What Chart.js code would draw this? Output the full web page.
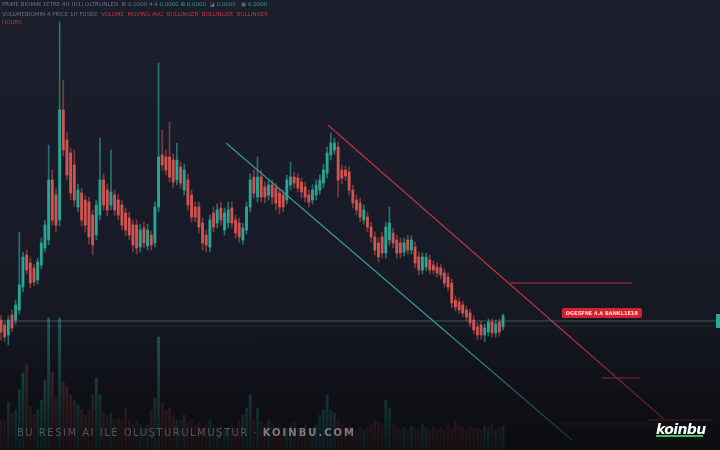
<!DOCTYPE html>
<html>
<head>
<meta charset="utf-8">
<script src="https://cdn.jsdelivr.net/npm/chart.js@4.4.1/dist/chart.umd.min.js"></script>
<style>
    html, body { margin: 0; padding: 0; }
    body {
        width: 720px; height: 450px; overflow: hidden;
        background: linear-gradient(#1b1e2b 0%, #181b27 55%, #101218 100%);
        font-family: "DejaVu Sans", sans-serif;
    }
    #wrap { position: relative; width: 720px; height: 450px; }
    #chart { position: absolute; left: 0; top: 0; }
    .hdr { position: absolute; left: 2px; font-size: 5.5px; white-space: nowrap; color: #6b7180; }
    .hdr .t { color: #2f9c8c; }
    .hdr .r { color: #c8333d; }
    #fade {
        position: absolute; left: 0; top: 330px; width: 720px; height: 120px;
        background: linear-gradient(rgba(13,14,19,0), rgba(11,12,16,0.8));
    }
    #mark {
        position: absolute; left: 17px; top: 427px; font-size: 10px; letter-spacing: 1.5px;
        color: rgba(185,190,200,0.36); white-space: nowrap;
    }
    #mark b { color: rgba(215,218,225,0.52); letter-spacing: 2px; }
    #logo {
        position: absolute; left: 656px; top: 421px; font: italic bold 14px "DejaVu Sans", sans-serif;
        color: #ffffff; letter-spacing: -0.6px;
    }
    #logo span { display: block; width: 47px; height: 2px; background: #39c25a; margin-top: -2px; }
</style>
</head>
<body>
<div id="wrap">
    <canvas id="chart" width="720" height="450"></canvas>
    <div class="hdr" style="top:1px">PRIME BIOMIN 1ETRE 4H (H1) OLTRONLEN &nbsp;<span>⊞</span> 0.0000 4.4 <span class="t">0.0000 ⊞ 0.0000</span> &nbsp;◪ <span class="t">0.0000</span> &nbsp;&nbsp;▣ <span class="t">0.0000</span></div>
    <div class="hdr" style="top:11px">VOLUMEBIOMIN 4 PRICE 1H FUSBE &nbsp;<span class="r">VOLUME &nbsp;MOVING AVG &nbsp;BOLLINGER &nbsp;BOLLINGER &nbsp;BOLLINGER</span></div>
    <div class="hdr" style="top:19px"><span class="r">HOURS</span></div>
    <div id="fade"></div>
    <div id="mark">BU RESIM AI ILE OLUŞTURULMUŞTUR · <b>KOINBU.COM</b></div>
    <div id="logo">koinbu<span></span></div>
</div>
<script>
// candles (price units)
const opens = [130,125,115,135,130,140,163,195,187,182, 170,185,202,210,270,255,230,340,310,297,
    285,243,257,250,248,235,215,235,270,260, 245,255,250,245,237,232,225,225,203,222,
    204,215,207,243,295,293,293,290,270,283, 260,270,255,243,243,227,215,203,237,227,
    242,220,227,242,230,227,210,220,243,273, 253,273,263,255,265,262,257,255,250,265,
    273,272,268,263,255,250,255,260,267,277, 295,300,303,280,280,278,260,250,247,230,
    233,223,213,207,213,197,210,217,210,207, 198,210,200,203,193,180,183,190,185,183,
    182,177,173,167,150,148,145,140,137,130, 123,125,115,118,128,117,128,123];
const highs = [135,128,134,140,150,218,198,200,192,186, 192,212,230,305,280,262,428,370,318,302,
    300,266,262,255,253,240,250,312,276,266, 300,260,256,250,242,238,230,230,226,228,
    226,219,248,387,320,300,328,296,307,288, 286,276,260,248,248,232,220,235,243,246,
    248,242,248,248,235,232,227,248,276,280, 293,280,268,270,270,267,262,260,275,288,
    278,276,272,268,260,265,270,275,286,303, 317,312,308,285,284,283,265,255,252,245,
    238,228,218,212,218,228,243,222,215,212, 212,215,214,208,198,197,197,195,189,187,
    186,181,177,171,154,152,149,144,141,134, 127,129,126,131,131,130,131,136];
const lows = [110,108,105,118,126,136,158,176,162,164, 166,181,198,205,225,218,224,294,270,250,
    244,238,224,218,206,195,210,230,240,234, 240,235,230,220,214,210,198,196,198,202,
    200,200,203,238,280,275,268,262,265,262, 255,240,228,228,217,200,198,198,218,222,
    225,215,222,222,212,208,206,216,238,252, 248,248,247,250,246,240,236,238,246,260,
    262,258,252,248,243,246,250,256,262,272, 290,296,253,266,270,255,242,235,228,226,
    218,208,195,188,192,192,205,202,192,192, 194,196,196,182,175,176,179,176,176,173,
    171,163,159,142,139,136,133,129,123,116, 110,111,108,114,113,113,114,120];
const closes = [118,113,130,122,145,165,193,180,167,168, 188,207,225,270,230,225,340,300,275,257,
    250,260,230,225,213,205,245,270,245,240, 258,240,235,225,220,215,205,202,220,207,
    220,205,243,293,285,280,273,268,290,267, 280,245,233,233,223,207,205,230,223,240,
    230,237,240,227,217,213,222,243,270,257, 273,253,253,265,253,247,243,243,270,273,
    267,262,258,253,248,260,265,270,280,297, 307,307,270,272,274,260,247,240,233,240,
    223,213,200,193,197,223,227,207,197,197, 207,200,210,187,180,193,193,180,180,177,
    175,167,163,147,143,140,137,133,127,120, 115,115,122,128,117,126,118,134];
const volumes = [30,28,48,37,40,60,77,85,43,35, 40,50,70,132,78,52,132,68,63,55,
    50,45,40,35,40,55,72,55,38,35, 37,30,32,30,42,30,25,28,25,22,
    25,40,52,113,47,40,42,35,30,30, 35,28,30,25,28,22,25,30,25,22,
    24,20,22,25,22,28,35,42,55,30, 42,28,25,30,27,22,25,20,22,24,
    28,22,20,25,22,22,25,35,40,55, 40,37,30,25,22,24,22,20,22,20,
    22,25,30,28,25,50,42,25,22,20, 22,20,24,22,20,26,22,20,24,21,
    22,20,25,22,28,24,22,20,23,21, 22,20,24,22,26,20,22,24];

// drawn levels: [startIndex, startPrice, endIndex, endPrice]
const resistanceLine = [89.2, 325, 181.2, 30];
const supportLine = [61.4, 307, 155.8, 10];
const redLevels = [[138.9, 172.2, 167], [164.0, 174.4, 72], [176.6, 194.1, 30]];
const faintLevel = [152.6, 178.5, 26];
const basePrice = 129;
const labelAt = [164.0, 137];
const labelText = 'OGESFNE 4.A BANKL1E1R';

const X_MIN = -0.27, X_MAX = 196.2;
const UP = '#29a595', DOWN = '#d0544f';

const isUp = closes.map((c, i) => c >= opens[i]);

function seg(x1, y1, x2, y2, color, width, z) {
    return {
        type: 'line', data: [{ x: x1, y: y1 }, { x: x2, y: y2 }],
        borderColor: color, borderWidth: width, pointRadius: 0, order: z ?? 2
    };
}

const labelBox = {
    id: 'labelBox',
    afterDatasetsDraw(chart) {
        const { ctx, scales, chartArea } = chart;
        const cx = scales.x.getPixelForValue(labelAt[0]);
        const cy = scales.y.getPixelForValue(labelAt[1]);
        ctx.save();
        ctx.fillStyle = '#d9202d';
        ctx.beginPath();
        ctx.roundRect(cx - 40, cy - 5, 80, 10, 2);
        ctx.fill();
        ctx.fillStyle = '#ffdfe2';
        ctx.font = 'bold 5px "DejaVu Sans"';
        ctx.textAlign = 'center';
        ctx.textBaseline = 'middle';
        ctx.fillText(labelText, cx, cy + 0.5);
        // cut-off price tag at the right edge
        const py = scales.y.getPixelForValue(basePrice);
        ctx.fillStyle = '#2aa89a';
        ctx.fillRect(chartArea.right - 4, py - 7, 4, 14);
        ctx.restore();
    }
};

new Chart(document.getElementById('chart'), {
    data: {
        datasets: [
            {
                type: 'bar', yAxisID: 'yVol', order: 6, grouped: false, barThickness: 2.2,
                data: volumes.map((v, i) => ({ x: i, y: v })),
                backgroundColor: isUp.map(u => u ? 'rgba(41,165,149,0.45)' : 'rgba(208,84,79,0.32)')
            },
            {
                type: 'bar', order: 5, grouped: false, barThickness: 1,
                data: lows.map((l, i) => ({ x: i, y: [l, highs[i]] })),
                backgroundColor: isUp.map(u => u ? 'rgba(41,165,149,0.65)' : 'rgba(208,84,79,0.55)')
            },
            {
                type: 'bar', order: 4, grouped: false, barThickness: 2.2,
                data: opens.map((o, i) => ({ x: i, y: [o, closes[i]] })),
                backgroundColor: isUp.map(u => u ? UP : DOWN)
            },
            seg(X_MIN, basePrice, X_MAX, basePrice, 'rgba(105,150,150,0.5)', 1),
            seg(X_MIN, basePrice - 5, X_MAX, basePrice - 5, 'rgba(100,120,135,0.18)', 1),
            seg(resistanceLine[0], resistanceLine[1], resistanceLine[2], resistanceLine[3], '#bf333b', 1.2),
            seg(supportLine[0], supportLine[1], supportLine[2], supportLine[3], '#389a92', 1.2),
            ...redLevels.map(l => seg(l[0], l[2], l[1], l[2], '#bd313a', 1.2)),
            seg(faintLevel[0], faintLevel[2], faintLevel[1], faintLevel[2], 'rgba(150,40,50,0.6)', 1)
        ]
    },
    options: {
        responsive: false,
        animation: false,
        events: [],
        layout: { padding: 0 },
        plugins: { legend: { display: false }, tooltip: { enabled: false } },
        scales: {
            x: { type: 'linear', min: X_MIN, max: X_MAX, display: false, offset: false },
            y: { min: 0, max: 450, display: false },
            yVol: { min: 0, max: 450, display: false }
        }
    },
    plugins: [labelBox]
});
</script>
</body>
</html>
